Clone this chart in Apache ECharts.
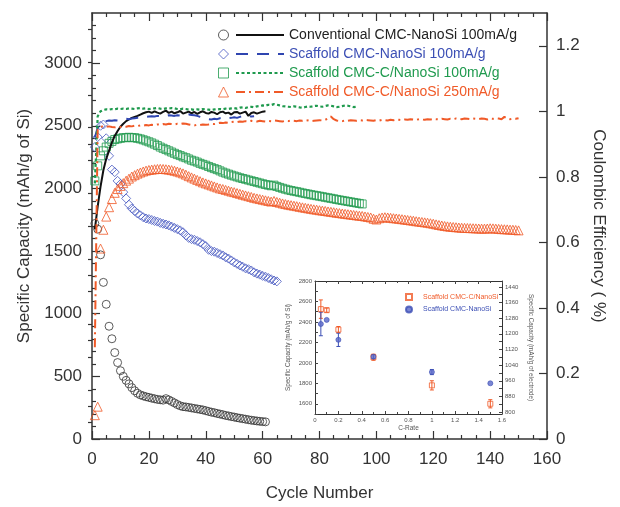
<!DOCTYPE html>
<html><head><meta charset="utf-8">
<script src="https://cdn.jsdelivr.net/npm/echarts@6/dist/echarts.min.js"></script>
<style>html,body{margin:0;padding:0;background:#fff}#c{width:620px;height:507px}</style>
</head><body><div id="c"></div>
<script>
// ---- Main chart data (index i -> cycle i+1) ----
const capConventional = [1720,1675,1470,1250,1075,900,800,690,610,545,500,468,440,410,385,365,352,344,337,332,326,321,316,313,310,322,312,300,288,275,265,258,256,252,248,244,240,236,232,226,220,214,210,204,199,194,188,184,179,175,170,166,162,158,154,150,147,144,141,139,137];
const capScaffold = [2330,2410,2500,2510,2400,2260,2150,2130,2060,2035,1970,1920,1870,1840,1820,1800,1785,1770,1760,1755,1748,1740,1735,1725,1718,1712,1705,1695,1685,1675,1665,1650,1625,1605,1595,1590,1580,1570,1555,1540,1510,1500,1495,1485,1475,1465,1450,1440,1425,1410,1398,1385,1375,1362,1355,1345,1330,1320,1312,1302,1295,1285,1275,1265,1258];
const capScaffoldC = [2060,2180,2260,2300,2330,2360,2375,2390,2395,2400,2405,2405,2408,2405,2405,2400,2395,2388,2380,2372,2363,2353,2342,2330,2320,2310,2300,2290,2280,2270,2262,2252,2245,2235,2225,2218,2210,2200,2192,2185,2175,2166,2158,2150,2140,2130,2122,2114,2106,2099,2092,2085,2079,2073,2067,2061,2055,2049,2043,2037,2031,2026,2021,2026,2016,2008,2001,1994,1988,1983,1978,1974,1969,1964,1959,1955,1950,1946,1942,1938,1934,1929,1925,1921,1917,1912,1908,1904,1900,1896,1892,1888,1884,1880,1876];
const capScaffoldC250 = [190,258,1520,1670,1775,1850,1915,1965,1995,2020,2042,2062,2078,2095,2106,2118,2127,2135,2142,2147,2150,2153,2155,2156,2155,2153,2150,2146,2141,2135,2128,2120,2110,2098,2088,2078,2068,2058,2048,2040,2032,2024,2016,2008,2000,1995,1988,1982,1975,1970,1963,1957,1950,1944,1938,1932,1925,1920,1915,1910,1905,1900,1895,1900,1892,1886,1880,1875,1870,1866,1862,1858,1853,1849,1845,1841,1837,1833,1830,1826,1823,1820,1816,1813,1810,1806,1803,1800,1797,1794,1791,1788,1785,1782,1780,1776,1772,1768,1758,1752,1762,1768,1770,1768,1765,1762,1760,1757,1754,1751,1748,1745,1742,1738,1735,1732,1729,1726,1722,1718,1713,1708,1704,1700,1697,1694,1692,1690,1688,1686,1685,1684,1683,1682,1681,1680,1679,1679,1680,1682,1681,1679,1677,1675,1674,1673,1671,1670,1668,1665];

const ceConventional = [0.64,0.71,0.77,0.82,0.855,0.88,0.905,0.925,0.94,0.953,0.962,0.97,0.975,0.98,0.983,0.986,0.99,0.994,0.997,0.999,0.995,1.0,0.996,0.993,0.998,1.002,0.995,0.999,0.994,0.997,1.001,0.993,0.996,0.999,0.994,0.998,0.992,0.997,1.0,0.995,0.993,0.998,0.996,0.991,0.997,0.999,0.994,0.996,0.99,0.997,0.998,0.993,0.996,0.999,0.986,0.995,0.997,0.993,0.996,0.999,1.0];
const ceScaffold = [0.92,0.95,0.963,0.968,0.97,0.972,0.971,0.973,0.972,0.974,0.975,0.977,0.976,0.978,0.979,0.98,0.981,0.982,0.983,0.984,0.985,0.984,0.986,0.985,0.987,0.986,0.988,0.987,0.986,0.988,0.987,0.989,0.988,0.99,0.989,0.988,0.986,0.983,0.98,0.978,0.976,0.975,0.977,0.976,0.979,0.98,0.981,0.979,0.98,0.982,0.98,0.983,0.985,0.984,0.986,0.984,0.985];
const ceScaffoldC = [0.78,0.985,1.0,1.004,1.006,1.005,1.007,1.006,1.008,1.007,1.008,1.007,1.009,1.008,1.007,1.009,1.01,1.008,1.009,1.007,1.008,1.009,1.01,1.008,1.007,1.009,1.008,1.01,1.009,1.007,1.006,1.008,1.007,1.005,1.006,1.004,1.006,1.005,1.007,1.006,1.005,1.004,1.006,1.005,1.007,1.006,1.008,1.007,1.009,1.01,1.008,1.011,1.012,1.01,1.013,1.014,1.012,1.015,1.016,1.018,1.017,1.02,1.019,1.022,1.02,1.018,1.016,1.015,1.014,1.013,1.015,1.014,1.012,1.011,1.013,1.015,1.014,1.016,1.017,1.015,1.014,1.016,1.018,1.017,1.015,1.013,1.014,1.016,1.018,1.017,1.015,1.013,1.014];
const ceScaffoldC250 = [0.28,0.945,0.952,0.955,0.953,0.954,0.952,0.951,0.953,0.952,0.954,0.953,0.955,0.954,0.956,0.955,0.957,0.956,0.958,0.957,0.959,0.958,0.96,0.959,0.961,0.96,0.962,0.961,0.96,0.962,0.961,0.963,0.962,0.96,0.958,0.957,0.959,0.958,0.96,0.959,0.96,0.962,0.961,0.963,0.965,0.964,0.966,0.965,0.967,0.968,0.967,0.969,0.968,0.97,0.969,0.971,0.97,0.969,0.971,0.97,0.969,0.971,0.97,0.972,0.971,0.97,0.969,0.971,0.97,0.972,0.971,0.97,0.972,0.971,0.973,0.972,0.97,0.971,0.972,0.973,0.972,0.974,0.978,0.984,0.976,0.972,0.971,0.97,0.972,0.971,0.973,0.972,0.971,0.973,0.972,0.974,0.973,0.972,0.971,0.973,0.972,0.974,0.973,0.972,0.974,0.973,0.975,0.974,0.973,0.975,0.974,0.976,0.975,0.974,0.976,0.975,0.974,0.976,0.975,0.977,0.976,0.975,0.977,0.976,0.975,0.977,0.976,0.978,0.977,0.976,0.978,0.977,0.976,0.978,0.977,0.976,0.978,0.977,0.975,0.978,0.977,0.979,0.978,0.976,0.983,0.978,0.976,0.978,0.977,0.979];

const legendNames = ['Conventional CMC-NanoSi 100mA/g','Scaffold CMC-NanoSi 100mA/g','Scaffold CMC-C/NanoSi 100mA/g','Scaffold CMC-C/NanoSi 250mA/g'];
const capTicks = [0,500,1000,1500,2000,2500,3000];
const ceTicks = [0,0.2,0.4,0.6,0.8,1,1.2];

// ---- Inset data ----
const insetNames = ['Scaffold CMC-C/NanoSi','Scaffold CMC-NanoSi'];
const cRate = [0.05,0.1,0.2,0.5,1.0,1.5];
const insetCapC = [2525,2515,2325,2055,1780,1600];
const insetErrC = [90,20,30,30,45,40];
const insetCap = [2380,2420,2225,2060,1910,1800];
const insetErr = [115,0,65,20,25,0];
const insetLeftTicks = [1600,1800,2000,2200,2400,2600,2800];
const insetRightTicks = [800,880,960,1040,1120,1200,1280,1360,1440];

const C_BLACK='#222', C_BLUE='#3c4fb5', C_GREEN='#1f9a4e', C_ORANGE='#f05a28';

function pairs(arr){ return arr.map((v,i)=>[i+1,v]); }
function range(a,b,s){ const r=[]; for(let v=a; v<=b+1e-9; v+=s) r.push(+v.toFixed(4)); return r; }
const minorCap = range(100,3300,100).filter(v=>v%500!==0);
const minorCe = range(0.05,1.25,0.05).filter(v=>Math.abs(v*5-Math.round(v*5))>1e-6);
const plain = v => String(v);

const AX = '#333';
function frameLine(w){ return {show:true,onZero:false,lineStyle:{color:AX,width:w}}; }

const chart = echarts.init(document.getElementById('c'));
const errRender = color => function(params, api){
  const x=api.value(0), lo=api.value(2), hi=api.value(3);
  if (hi-lo<=0) return {type:'group',children:[]};
  const p1=api.coord([x,lo]), p2=api.coord([x,hi]);
  const st={stroke:color,lineWidth:1};
  return {type:'group',children:[
    {type:'line',shape:{x1:p1[0],y1:p1[1],x2:p2[0],y2:p2[1]},style:st},
    {type:'line',shape:{x1:p1[0]-2,y1:p1[1],x2:p1[0]+2,y2:p1[1]},style:st},
    {type:'line',shape:{x1:p2[0]-2,y1:p2[1],x2:p2[0]+2,y2:p2[1]},style:st}
  ]};
};

const option = {
  animation:false,
  backgroundColor:'#fff',
  textStyle:{fontFamily:'Liberation Sans, Arial, sans-serif'},
  grid:[
    {left:92,right:73,top:13,bottom:63},
    {left:315,right:118,top:281,bottom:93,show:true,backgroundColor:'#fff',borderWidth:0}
  ],
  legend:[
    {data:['m1','m2','m3','m4'],orient:'vertical',left:218,top:28,padding:0,itemWidth:10,itemHeight:10,itemGap:5,
     itemStyle:{borderWidth:1},
     formatter:()=>' ',textStyle:{fontSize:14},selectedMode:false},
    {data:[
      {name:legendNames[0],textStyle:{color:C_BLACK}},
      {name:legendNames[1],textStyle:{color:C_BLUE}},
      {name:legendNames[2],textStyle:{color:C_GREEN}},
      {name:legendNames[3],textStyle:{color:C_ORANGE}}],
     orient:'vertical',left:235,top:28,padding:0,itemWidth:48,itemHeight:14,itemGap:5,
     itemStyle:{opacity:0},
     textStyle:{fontSize:14},selectedMode:false},
    {data:[
      {name:insetNames[0],textStyle:{color:C_ORANGE}},
      {name:insetNames[1],textStyle:{color:C_BLUE}}],
     orient:'vertical',left:405,top:293,padding:0,itemWidth:6,itemHeight:6,itemGap:4.5,
     textStyle:{fontSize:7,padding:[0,0,0,6]},selectedMode:false}
  ],
  xAxis:[
    {gridIndex:0,type:'value',position:'bottom',min:0,max:160,interval:20,
     axisLine:frameLine(1.5),axisTick:{inside:true,length:8,lineStyle:{color:AX,width:1.2}},
     minorTick:{show:true,splitNumber:4,length:4,lineStyle:{color:AX,width:1.2}},
     splitLine:{show:false},minorSplitLine:{show:false},
     axisLabel:{fontSize:17,color:'#333',margin:12,formatter:plain},
     name:'Cycle Number',nameLocation:'middle',nameGap:46,nameTextStyle:{fontSize:17,color:'#333'}},
    {gridIndex:0,type:'value',position:'top',min:0,max:160,interval:20,
     axisLine:frameLine(1.5),axisTick:{inside:true,length:8,lineStyle:{color:AX,width:1.2}},
     minorTick:{show:true,splitNumber:4,length:4,lineStyle:{color:AX,width:1.2}},
     splitLine:{show:false},axisLabel:{show:false}},
    {gridIndex:1,type:'value',position:'bottom',min:0,max:1.6,interval:0.2,
     axisLine:frameLine(1),axisTick:{inside:true,length:3,lineStyle:{color:'#444'}},
     minorTick:{show:true,splitNumber:2,length:2,lineStyle:{color:'#444'}},
     splitLine:{show:false},axisLabel:{fontSize:6,color:'#555',margin:3,formatter:plain},
     name:'C-Rate',nameLocation:'middle',nameGap:11,nameTextStyle:{fontSize:6.5,color:'#555'}},
    {gridIndex:1,type:'value',position:'top',min:0,max:1.6,interval:0.2,
     axisLine:frameLine(1),axisTick:{inside:true,length:3,lineStyle:{color:'#444'}},
     minorTick:{show:true,splitNumber:2,length:2,lineStyle:{color:'#444'}},
     splitLine:{show:false},axisLabel:{show:false}}
  ],
  yAxis:[
    {gridIndex:0,type:'value',position:'left',min:0,max:3400,
     axisLine:frameLine(1.5),
     axisTick:{inside:true,length:8,customValues:capTicks,lineStyle:{color:AX,width:1.2}},
     axisLabel:{customValues:capTicks,fontSize:17,color:'#333',margin:10,formatter:plain},
     splitLine:{show:false},
     name:'Specific Capacity (mAh/g of Si)',nameLocation:'middle',nameGap:58,nameTextStyle:{fontSize:17,color:'#333'}},
    {gridIndex:0,type:'value',position:'right',min:0,max:1.3,
     axisLine:frameLine(1.5),
     axisTick:{inside:true,length:8,customValues:ceTicks,lineStyle:{color:AX,width:1.2}},
     axisLabel:{customValues:ceTicks,fontSize:17,color:'#333',margin:9,formatter:plain},
     splitLine:{show:false},
     name:'Coulombic Efficiency ( %)',nameLocation:'middle',nameRotate:-90,nameGap:42,nameTextStyle:{fontSize:17,color:'#333'}},
    {gridIndex:0,type:'value',position:'left',min:0,max:3400,axisLine:{show:false},
     axisTick:{inside:true,length:4,customValues:minorCap,lineStyle:{color:AX,width:1.2}},
     axisLabel:{show:false},splitLine:{show:false}},
    {gridIndex:0,type:'value',position:'right',min:0,max:1.3,axisLine:{show:false},
     axisTick:{inside:true,length:4,customValues:minorCe,lineStyle:{color:AX,width:1.2}},
     axisLabel:{show:false},splitLine:{show:false}},
    {gridIndex:1,type:'value',position:'left',min:1500,max:2800,
     axisLine:frameLine(1),
     axisTick:{inside:true,length:3,customValues:range(1500,2800,100),lineStyle:{color:'#444'}},
     axisLabel:{customValues:insetLeftTicks,fontSize:6,color:'#555',margin:3,formatter:plain},
     splitLine:{show:false},
     name:'Specific Capacity (mAh/g of Si)',nameLocation:'middle',nameGap:24,nameTextStyle:{fontSize:6.3,color:'#555'}},
    {gridIndex:1,type:'value',position:'right',min:790,max:1470,
     axisLine:frameLine(1),
     axisTick:{inside:true,length:3,customValues:range(800,1440,40),lineStyle:{color:'#444'}},
     axisLabel:{customValues:insetRightTicks,fontSize:6,color:'#555',margin:3,formatter:plain},
     splitLine:{show:false},
     name:'Specific Capacity (mAh/g of electrode)',nameLocation:'middle',nameRotate:-90,nameGap:26,nameTextStyle:{fontSize:6.3,color:'#555'}}
  ],
  series:[
    {name:'m1',type:'scatter',xAxisIndex:0,yAxisIndex:0,data:pairs(capConventional),symbol:'circle',symbolSize:8,
     itemStyle:{color:'rgba(0,0,0,0)',borderColor:'#333',borderWidth:1}},
    {name:'m2',type:'scatter',xAxisIndex:0,yAxisIndex:0,data:pairs(capScaffold),symbol:'diamond',symbolSize:9,
     itemStyle:{color:'rgba(0,0,0,0)',borderColor:'#4658c0',borderWidth:1}},
    {name:'m3',type:'scatter',xAxisIndex:0,yAxisIndex:0,data:pairs(capScaffoldC),symbol:'rect',symbolSize:8,
     itemStyle:{color:'rgba(0,0,0,0)',borderColor:C_GREEN,borderWidth:1}},
    {name:'m4',type:'scatter',xAxisIndex:0,yAxisIndex:0,data:pairs(capScaffoldC250),symbol:'triangle',symbolSize:9,
     itemStyle:{color:'rgba(0,0,0,0)',borderColor:C_ORANGE,borderWidth:1}},
    {name:legendNames[0],type:'line',xAxisIndex:0,yAxisIndex:1,data:pairs(ceConventional),symbol:'none',color:'#111',
     lineStyle:{color:'#111',width:2,type:'solid'},z:5},
    {name:legendNames[1],type:'line',xAxisIndex:0,yAxisIndex:1,data:pairs(ceScaffold),symbol:'none',color:'#2f45b0',
     lineStyle:{color:'#2f45b0',width:2,type:[12,9]},z:5},
    {name:legendNames[2],type:'line',xAxisIndex:0,yAxisIndex:1,data:pairs(ceScaffoldC),symbol:'none',color:C_GREEN,
     lineStyle:{color:C_GREEN,width:2.2,type:[3,2.5]},z:5},
    {name:legendNames[3],type:'line',xAxisIndex:0,yAxisIndex:1,data:pairs(ceScaffoldC250),symbol:'none',color:C_ORANGE,
     lineStyle:{color:C_ORANGE,width:2,type:[9,4,2,4]},z:5},
    {name:'errC',type:'custom',xAxisIndex:2,yAxisIndex:4,renderItem:errRender(C_ORANGE),
     data:cRate.map((x,i)=>[x,insetCapC[i],insetCapC[i]-insetErrC[i],insetCapC[i]+insetErrC[i]]),z:6},
    {name:'errB',type:'custom',xAxisIndex:2,yAxisIndex:4,renderItem:errRender(C_BLUE),
     data:cRate.map((x,i)=>[x,insetCap[i],insetCap[i]-insetErr[i],insetCap[i]+insetErr[i]]),z:6},
    {name:insetNames[0],type:'scatter',xAxisIndex:2,yAxisIndex:4,data:cRate.map((x,i)=>[x,insetCapC[i]]),
     symbol:'rect',symbolSize:5,itemStyle:{color:'rgba(0,0,0,0)',borderColor:C_ORANGE,borderWidth:1},z:7},
    {name:insetNames[1],type:'scatter',xAxisIndex:2,yAxisIndex:4,data:cRate.map((x,i)=>[x,insetCap[i]]),
     symbol:'circle',symbolSize:5,itemStyle:{color:'#5a68c8',borderColor:C_BLUE,borderWidth:0.8},z:7}
  ]
};
chart.setOption(option);
</script></body></html>
